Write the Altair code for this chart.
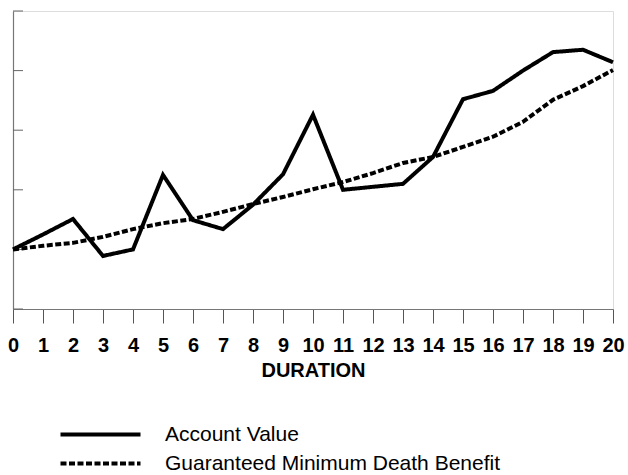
import altair as alt
import pandas as pd

durations = list(range(21))
account_value = [1.0, 1.25, 1.51, 0.89, 1.0, 2.25, 1.49, 1.34, 1.75, 2.26, 3.26,
                 2.0, 2.05, 2.1, 2.55, 3.52, 3.66, 4.0, 4.31, 4.35, 4.14]
gmdb = [1.0, 1.06, 1.11, 1.21, 1.34, 1.44, 1.51, 1.63, 1.76, 1.88, 2.01,
        2.13, 2.28, 2.45, 2.55, 2.72, 2.89, 3.14, 3.51, 3.74, 4.01]
series_names = ["Account Value", "Guaranteed Minimum Death Benefit"]
y_ticks = [0, 1, 2, 3, 4, 5]

rows = []
for d, a, g in zip(durations, account_value, gmdb):
    rows.append({"Duration": d, "Value": a, "Series": series_names[0]})
    rows.append({"Duration": d, "Value": g, "Series": series_names[1]})
df = pd.DataFrame(rows)
ticks_df = pd.DataFrame({"t": y_ticks})

x_scale = alt.Scale(domain=[0, 20], nice=False)
y_scale = alt.Scale(domain=[0, 5], nice=False, zero=False)

lines = alt.Chart(df).mark_line(strokeWidth=4, color="black").encode(
    x=alt.X("Duration:Q", scale=x_scale,
            axis=alt.Axis(title="DURATION", values=durations, tickCount=21,
                          format="d", grid=False, tickSize=14, tickColor="#555",
                          tickWidth=1, domainColor="#777", domainWidth=1.2,
                          labelFont="Liberation Sans", labelFontSize=20,
                          labelFontWeight="bold", labelColor="black",
                          labelPadding=12, labelFlush=False,
                          titleFont="Liberation Sans", titleFontSize=20,
                          titleFontWeight="bold", titleColor="black",
                          titlePadding=5)),
    y=alt.Y("Value:Q", scale=y_scale,
            axis=alt.Axis(title=None, labels=False, ticks=False, grid=False,
                          domainColor="#777", domainWidth=1.2)),
    strokeDash=alt.StrokeDash(
        "Series:N",
        scale=alt.Scale(domain=series_names, range=[[1, 0], [6, 2.5]]),
        legend=alt.Legend(title=None, orient="none", legendX=77, legendY=413,
                          symbolType="M-5,0H5", symbolSize=256,
                          symbolStrokeWidth=4, symbolStrokeColor="black",
                          labelFont="Liberation Sans", labelFontSize=21,
                          labelColor="black", labelOffset=54, labelLimit=600,
                          rowPadding=7, padding=0),
    ),
    order="Duration:Q",
)

yticks = alt.Chart(ticks_df).mark_rule(color="#666", strokeWidth=1).encode(
    y=alt.Y("t:Q", scale=y_scale),
    x=alt.value(0),
    x2=alt.value(10),
)

chart = alt.layer(yticks, lines).properties(
    width=600, height=298,
    autosize=alt.AutoSizeParams(type="none"),
    padding={"left": 13, "top": 11, "right": 15, "bottom": 166},
).configure_view(stroke=None).configure(background="white")

chart.save("out.html", embed_options={"renderer": "svg", "actions": False})
